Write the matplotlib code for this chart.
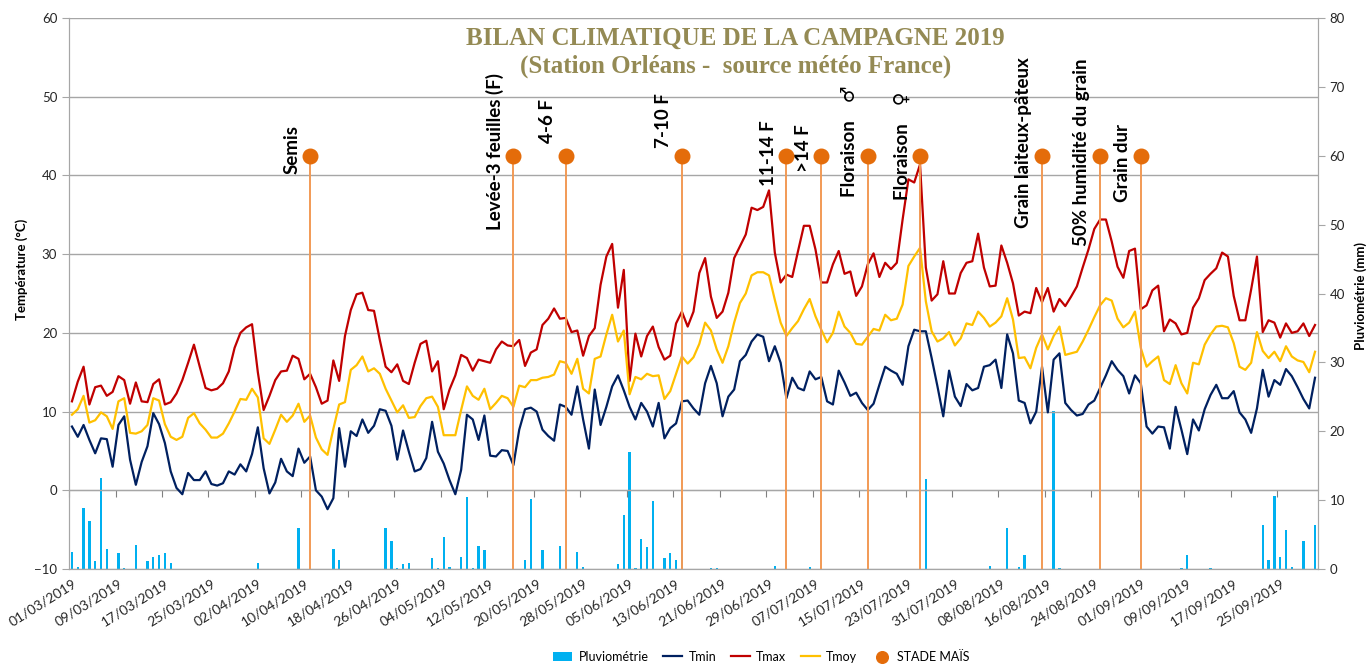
import matplotlib.pyplot as plt
import numpy as np
import pandas as pd

# campagne du 01/03/2019 au 01/10/2019, une valeur par jour
dates = pd.date_range('2019-03-01', '2019-10-01', freq='D')

tmax = [11.3, 13.8, 15.7, 10.9, 13.1, 13.3, 12.0, 12.5, 14.5, 14.0, 11.0, 13.7, 11.3, 11.2, 13.5, 14.1,
        10.9, 11.2, 12.3, 14.0, 16.2, 18.5, 15.7, 13.0, 12.7, 12.9, 13.6, 15.1, 18.1, 20.0, 20.7, 21.1,
        15.0, 10.2, 12.0, 14.0, 15.1, 15.2, 17.1, 16.7, 14.1, 14.8, 13.1, 11.0, 11.4, 16.5, 13.9, 19.6,
        22.9, 24.9, 25.1, 22.9, 22.8, 19.1, 15.7, 15.0, 16.0, 13.9, 13.5, 16.2, 18.6, 19.0, 15.1, 16.4,
        10.3, 12.8, 14.6, 17.2, 16.8, 15.2, 16.6, 16.4, 16.2, 17.9, 18.9, 18.4, 18.3, 19.1, 15.8, 17.5,
        17.9, 21.0, 21.8, 23.1, 21.8, 21.9, 20.1, 20.3, 17.1, 19.6, 20.6, 26.1, 29.7, 31.3, 23.2, 28.0,
        13.9, 19.9, 17.0, 19.6, 20.8, 18.2, 16.6, 17.1, 21.2, 22.7, 20.8, 22.7, 27.6, 29.5, 24.6, 21.9,
        22.7, 25.1, 29.5, 31.0, 32.5, 35.9, 35.6, 36.0, 38.1, 30.2, 26.4, 27.4, 27.1, 30.4, 33.6, 33.6,
        30.6, 26.4, 26.4, 28.7, 30.4, 27.5, 27.8, 24.7, 25.9, 28.7, 30.1, 27.1, 28.9, 28.1, 28.9, 34.4,
        39.5, 39.1, 41.4, 28.3, 24.1, 24.9, 29.1, 25.0, 25.0, 27.6, 28.9, 29.1, 32.6, 28.3, 25.9, 26.0,
        31.1, 28.9, 26.3, 22.2, 22.7, 22.5, 25.7, 23.9, 25.7, 22.7, 24.3, 23.4, 24.6, 25.9, 28.3, 30.6,
        33.2, 34.4, 34.4, 31.6, 28.4, 27.0, 30.4, 30.7, 23.0, 23.5, 25.4, 26.0, 20.2, 21.7, 21.2, 19.8,
        20.0, 23.2, 24.4, 26.7, 27.5, 28.2, 30.2, 29.7, 24.7, 21.6, 21.6, 25.5, 29.7, 20.1, 21.6, 21.3,
        19.4, 21.2, 20.0, 20.2, 21.2, 19.6, 21.0]

tmin = [8.1, 6.8, 8.3, 6.4, 4.7, 6.6, 6.5, 3.0, 8.3, 9.4, 3.9, 0.7, 3.6, 5.6, 9.8, 8.4,
        6.0, 2.4, 0.3, -0.5, 2.2, 1.3, 1.3, 2.4, 0.8, 0.6, 0.9, 2.4, 2.0, 3.3, 2.4, 4.6,
        8.0, 2.8, -0.4, 1.0, 4.0, 2.4, 1.8, 5.3, 3.5, 4.3, 0.0, -0.8, -2.4, -1.0, 7.9, 3.0,
        7.5, 6.9, 9.0, 7.3, 8.2, 10.3, 10.1, 8.2, 3.9, 7.6, 4.9, 2.4, 2.7, 4.1, 8.7, 4.9,
        3.4, 1.3, -0.5, 2.6, 9.6, 9.0, 6.4, 9.5, 4.4, 4.3, 5.1, 5.0, 3.2, 7.7, 10.3, 10.5,
        10.0, 7.7, 6.9, 6.3, 10.9, 10.6, 9.6, 13.2, 9.0, 5.3, 12.8, 8.3, 10.6, 13.2, 14.6, 12.7,
        10.6, 9.0, 11.1, 10.0, 8.1, 11.1, 6.6, 7.9, 8.5, 11.3, 11.4, 10.4, 9.6, 13.6, 15.8, 13.6,
        9.4, 11.9, 12.8, 16.4, 17.2, 18.9, 19.8, 19.5, 16.4, 18.3, 16.2, 11.7, 14.3, 13.0, 12.7, 15.1,
        14.1, 14.4, 11.3, 10.9, 15.2, 13.7, 12.0, 12.4, 11.1, 10.2, 11.0, 13.4, 15.7, 15.2, 14.8, 13.4,
        18.3, 20.4, 20.2, 20.2, 16.8, 13.2, 9.4, 15.2, 11.9, 10.7, 13.5, 12.7, 13.0, 15.7, 15.9, 16.6,
        13.0, 19.8, 17.4, 11.4, 11.1, 8.5, 10.0, 15.7, 9.9, 16.6, 17.4, 11.1, 10.2, 9.5, 9.7, 10.9,
        11.4, 13.0, 14.6, 16.4, 15.3, 14.5, 12.3, 14.6, 13.6, 8.1, 7.2, 8.1, 8.0, 5.3, 10.6, 7.7,
        4.6, 9.0, 7.6, 10.3, 12.1, 13.4, 11.7, 11.7, 12.6, 9.9, 9.0, 7.3, 10.4, 15.3, 11.9, 14.0,
        13.4, 15.4, 14.5, 13.1, 11.6, 10.4, 14.3]

tmoy = [9.6, 10.3, 12.0, 8.6, 8.9, 9.9, 9.4, 7.8, 11.3, 11.7, 7.3, 7.2, 7.5, 8.3, 11.7, 11.4,
        8.4, 6.8, 6.4, 6.8, 9.2, 9.8, 8.5, 7.7, 6.7, 6.7, 7.2, 8.5, 10.0, 11.6, 11.5, 12.9,
        11.8, 6.6, 5.9, 7.7, 9.6, 8.7, 9.5, 11.0, 8.7, 9.5, 6.7, 5.2, 4.5, 7.8, 10.9, 11.2,
        15.3, 15.9, 17.0, 15.1, 15.5, 14.8, 12.9, 11.4, 9.9, 10.8, 9.2, 9.3, 10.7, 11.7, 11.9, 10.6,
        7.0, 7.0, 7.0, 10.2, 13.2, 12.0, 11.5, 12.9, 10.3, 11.1, 12.0, 11.7, 10.6, 13.3, 13.1, 14.0,
        14.0, 14.3, 14.4, 14.7, 16.4, 16.2, 14.8, 16.7, 12.9, 12.3, 16.7, 17.0, 19.8, 22.3, 18.9, 20.3,
        12.2, 14.4, 14.1, 14.8, 14.5, 14.6, 11.6, 12.6, 14.8, 17.0, 16.1, 16.9, 18.6, 21.3, 20.3, 17.9,
        16.2, 18.3, 21.3, 23.8, 25.0, 27.3, 27.7, 27.7, 27.3, 24.2, 21.3, 19.6, 20.6, 21.5, 23.0, 24.3,
        22.1, 20.4, 18.8, 20.0, 22.7, 20.8, 20.0, 18.6, 18.5, 19.5, 20.5, 20.3, 22.3, 21.6, 21.8, 23.6,
        28.5, 29.7, 30.8, 24.0, 20.2, 18.9, 19.3, 20.1, 18.4, 19.3, 21.2, 21.0, 22.7, 21.9, 20.8, 21.3,
        22.1, 24.4, 21.7, 16.8, 16.9, 15.5, 18.1, 19.8, 17.9, 19.6, 20.8, 17.2, 17.4, 17.6, 18.9, 20.4,
        22.0, 23.5, 24.4, 24.1, 21.8, 20.7, 21.3, 22.7, 18.1, 15.7, 16.4, 17.0, 14.0, 13.5, 15.9, 13.6,
        12.3, 16.2, 16.0, 18.5, 19.8, 20.8, 20.9, 20.7, 18.7, 15.7, 15.3, 16.2, 20.1, 17.7, 16.8, 17.6,
        16.4, 18.3, 17.0, 16.5, 16.3, 15.0, 17.6]

# pluie : numero du jour depuis le 01/03 et hauteur (mm)
pluie_jours = [0, 1, 2, 3, 4, 5, 6, 8, 9, 11, 13, 14, 15, 16, 17, 32, 39, 45, 46, 54, 55, 56, 57, 58,
               62, 63, 64, 65, 67, 68, 69, 70, 71, 78, 79, 81, 84, 85, 87, 88, 94, 95, 96, 97, 98, 99,
               100, 102, 103, 104, 105, 110, 111, 121, 127, 147, 158, 161, 163, 164, 169, 170, 191,
               192, 196, 205, 206, 207, 208, 209, 210, 212, 214]
pluie_mm = [2.5, 0.3, 8.9, 7.0, 1.1, 13.2, 2.9, 2.3, 0.2, 3.5, 1.1, 1.7, 2.1, 2.3, 0.9, 0.9, 6.0, 2.9,
            1.3, 6.0, 4.0, 0.2, 0.7, 0.9, 1.6, 0.2, 4.7, 0.3, 1.7, 10.5, 0.2, 3.3, 2.8, 1.3, 10.2, 2.8,
            3.3, 1.3, 2.5, 0.3, 0.7, 7.9, 17.0, 0.2, 4.4, 3.2, 9.9, 1.6, 2.3, 1.3, 10.4, 0.1, 0.1, 0.5,
            0.3, 13.1, 0.5, 5.9, 0.3, 2.0, 23.0, 0.2, 0.2, 2.0, 0.2, 6.4, 1.3, 10.6, 1.7, 5.6, 0.3,
            4.1, 6.4]

stades_jours = [41, 76, 85, 105, 123, 129, 137, 146, 167, 177, 184]
stades_noms = ['Semis', 'Levée-3 feuilles (F)', '4-6 F', '7-10 F', '11-14 F', '>14 F',
               'Floraison    ♂', 'Floraison    ♀', 'Grain laiteux-pâteux', '50% humidité du grain',
               'Grain dur']
# hauteur du centre de chaque etiquette (en °C)
stades_label_y = [43.3, 43.0, 46.9, 47.0, 42.8, 43.5, 44.3, 43.8, 44.2, 42.9, 41.6]
y_stade = 42.5

plt.rcParams['font.family'] = ['Lato', 'DejaVu Sans']
gris = '#A6A6A6'
txt = '#262626'

x = np.arange(len(dates))
pluie = np.zeros(len(dates))
pluie[pluie_jours] = pluie_mm

fig = plt.figure(figsize=(13.7, 6.66), dpi=100)
ax = fig.add_axes([0.0504, 0.1456, 0.9116, 0.8274])
ax2 = ax.twinx()
ax.set_zorder(ax2.get_zorder() + 1)
ax.patch.set_visible(False)

barres = ax2.bar(x, pluie, width=0.4, color='#00B0F0', label='Pluviométrie')
ax2.set_ylim(0, 80)
ax2.set_yticks(range(0, 81, 10))

l1, = ax.plot(x, tmin, color='#002060', lw=1.6, label='Tmin')
l2, = ax.plot(x, tmax, color='#C00000', lw=1.6, label='Tmax')
l3, = ax.plot(x, tmoy, color='#FFC000', lw=1.6, label='Tmoy')

ax.vlines(stades_jours, -10, y_stade, color='#F29A55', lw=1.4, zorder=4)
pts = ax.scatter(stades_jours, [y_stade] * len(stades_jours), s=110, color='#E46C0A',
                 zorder=5, label='STADE MAÏS')
for d, nom, yl in zip(stades_jours, stades_noms, stades_label_y):
    ax.annotate(nom, (d, yl), xytext=(-7, 0), textcoords='offset points', rotation=90,
                ha='right', va='center', fontsize=13.5, fontweight='bold', color='black')

ax.set_xlim(-0.5, len(dates) - 0.5)
ax.set_ylim(-10, 60)
ax.set_yticks(range(-10, 61, 10))
ax.grid(axis='y', color=gris, lw=1)
ax.set_axisbelow(True)

xt = np.arange(0, len(dates), 8)
ax.set_xticks(xt)
ax.set_xticklabels(dates[xt].strftime('%d/%m/%Y'), rotation=32, ha='right',
                   rotation_mode='anchor', fontsize=10, color=txt)
ax.tick_params(axis='x', length=0, pad=6)
ax.tick_params(axis='y', labelsize=9.5, labelcolor=txt, color=gris, length=5)
ax2.tick_params(axis='y', labelsize=9.5, labelcolor=txt, color=gris, length=5)

for a in (ax, ax2):
    a.spines['top'].set_visible(False)
    for s in ('left', 'right', 'bottom'):
        a.spines[s].set_color(gris)

# axe des abscisses croisant a 0 °C, avec ses graduations
sec = ax.secondary_xaxis(10 / 70)
sec.set_xticks(np.arange(-0.5, len(dates), 8))
sec.set_xticklabels([])
sec.tick_params(axis='x', direction='out', length=5, color='#808080')
sec.spines['bottom'].set_color('#808080')
sec.spines['top'].set_color('#808080')

ax.set_ylabel('Température (°C)', fontsize=9.5, fontweight='bold')
ax2.set_ylabel('Pluviométrie (mm)', fontsize=9.5, fontweight='bold')
ax.yaxis.set_label_coords(-0.033, 0.543)
ax2.yaxis.set_label_coords(1.029, 0.495)

fig.text(0.537, 0.943, 'BILAN CLIMATIQUE DE LA CAMPAGNE 2019', ha='center', va='center',
         fontsize=18, fontweight='bold', color='#948A54', family='Liberation Serif')
fig.text(0.537, 0.901, '(Station Orléans -  source météo France)', ha='center', va='center',
         fontsize=18, fontweight='bold', color='#948A54', family='Liberation Serif')

fig.legend([barres, l1, l2, l3, pts], ['Pluviométrie', 'Tmin', 'Tmax', 'Tmoy', 'STADE MAÏS'],
           loc='center', bbox_to_anchor=(0.556, 0.014), ncol=5, frameon=False, fontsize=9,
           handlelength=1.5, columnspacing=1.2, handletextpad=0.5, markerscale=0.8)

fig.savefig('out.png', dpi=100)
plt.close()
